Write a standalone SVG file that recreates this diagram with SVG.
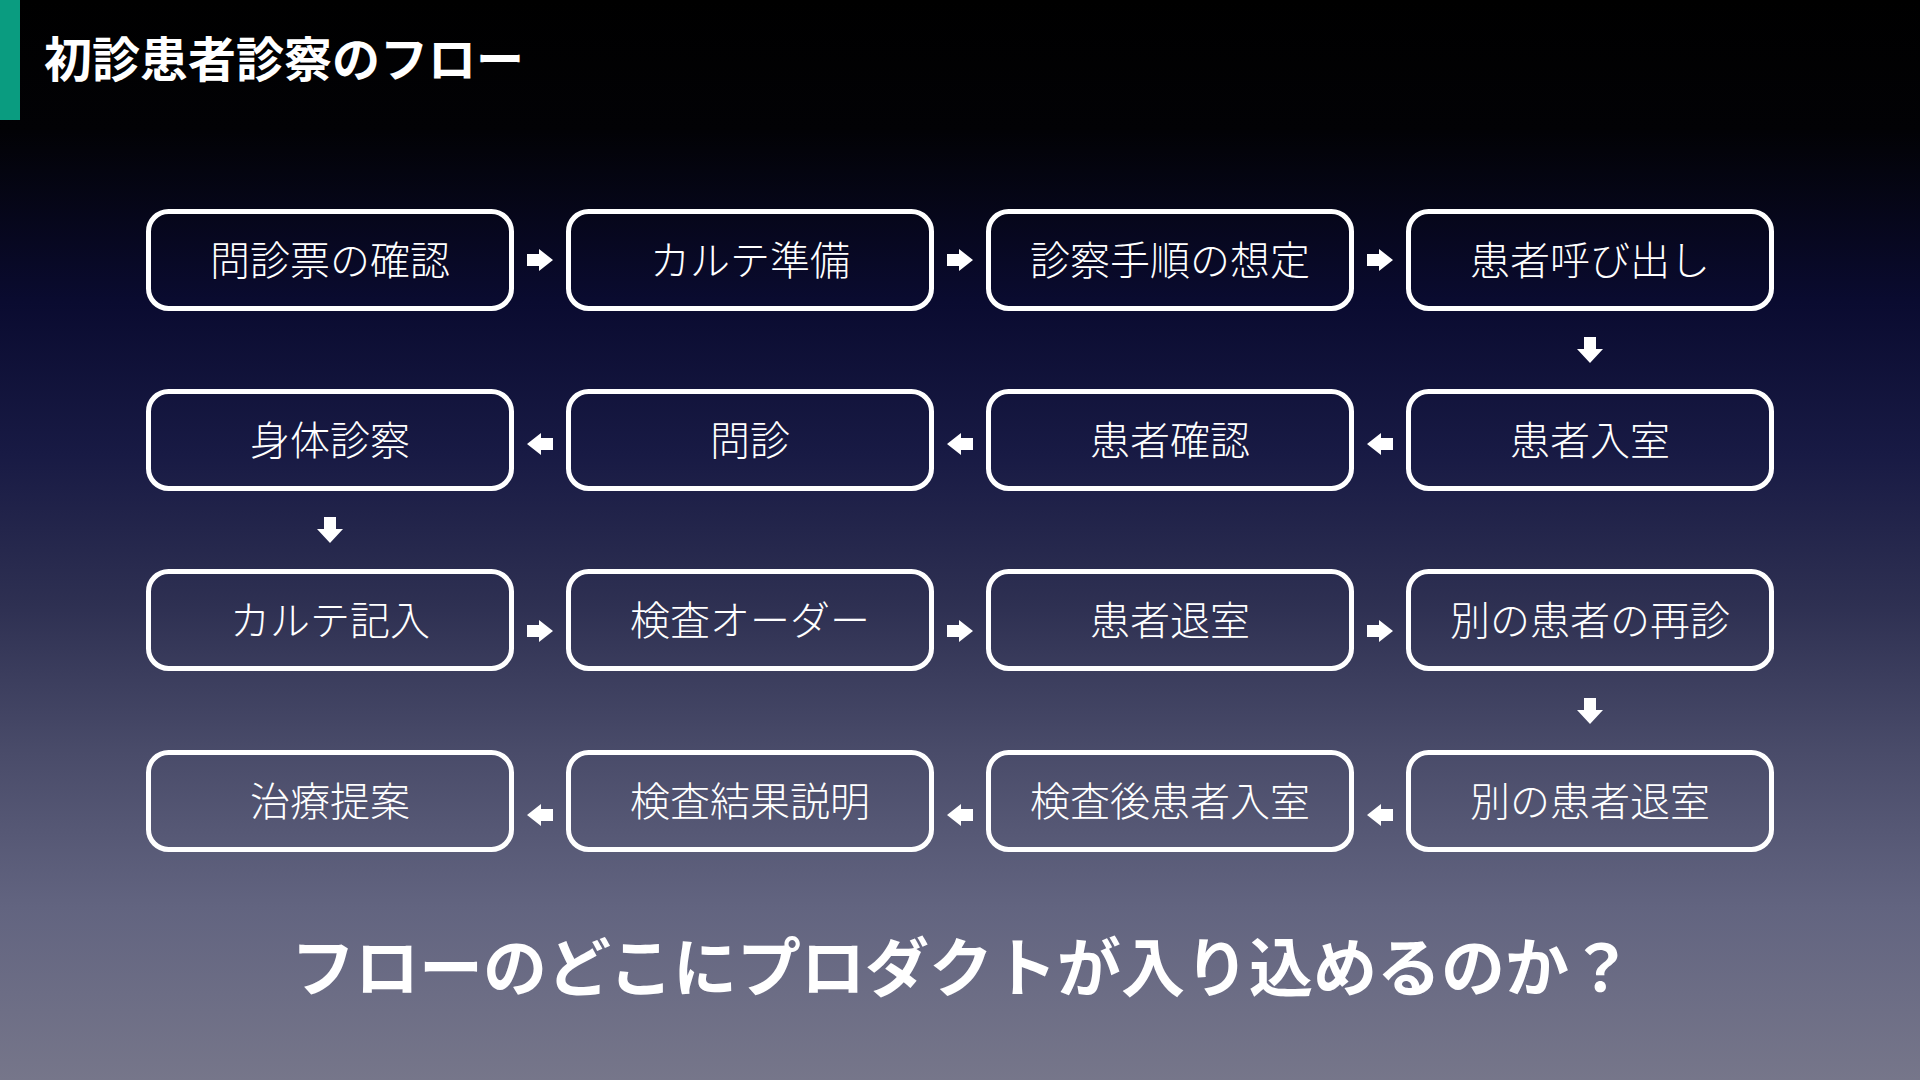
<svg xmlns="http://www.w3.org/2000/svg" xmlns:xlink="http://www.w3.org/1999/xlink" width="1920" height="1080" viewBox="0 0 1920 1080">
  <defs>
    <linearGradient id="bg" x1="0" y1="0" x2="0" y2="1">
      <stop offset="0" stop-color="#000000"/>
      <stop offset="0.12" stop-color="#020205"/>
      <stop offset="0.28" stop-color="#0a0b30"/>
      <stop offset="0.42" stop-color="#181a44"/>
      <stop offset="0.56" stop-color="#2e3052"/>
      <stop offset="0.7" stop-color="#4a4c6a"/>
      <stop offset="0.84" stop-color="#626480"/>
      <stop offset="1" stop-color="#76768a"/>
    </linearGradient>
    <path id="arR" d="M-13,-6 H-1 V-11 L13,0 L-1,11 V6 H-13 Z" fill="#ffffff"/>
    <path id="arL" d="M13,-6 H1 V-11 L-13,0 L1,11 V6 H13 Z" fill="#ffffff"/>
    <path id="arD" d="M-6,-13 V-1 H-13 L0,13 L13,-1 H6 V-13 Z" fill="#ffffff"/>
  </defs>
  <style>
    .box { fill: none; stroke: #ffffff; stroke-width: 5; }
    .lbl { font-family: "Noto Sans CJK JP", "Noto Sans CJK SC", sans-serif; font-size: 40px; font-weight: 300; fill: #ffffff; text-anchor: middle; }
    .title { font-family: "Noto Sans CJK JP", "Noto Sans CJK SC", sans-serif; font-size: 48px; font-weight: 700; fill: #ffffff; }
    .q { font-family: "Noto Sans CJK JP", "Noto Sans CJK SC", sans-serif; font-size: 64px; font-weight: 700; fill: #ffffff; text-anchor: middle; }
  </style>
  <rect x="0" y="0" width="1920" height="1080" fill="url(#bg)"/>
  <rect x="0" y="0" width="20" height="120" fill="#0a9c80"/>
  <text class="title" x="44" y="77">初診患者診察のフロー</text>

  <g id="connectors">
    <use xlink:href="#arR" x="540" y="260"/>
    <use xlink:href="#arR" x="960" y="260"/>
    <use xlink:href="#arR" x="1380" y="260"/>
    <use xlink:href="#arD" x="1590" y="350"/>
    <use xlink:href="#arL" x="1380" y="444"/>
    <use xlink:href="#arL" x="960" y="444"/>
    <use xlink:href="#arL" x="540" y="444"/>
    <use xlink:href="#arD" x="330" y="530"/>
    <use xlink:href="#arR" x="540" y="631"/>
    <use xlink:href="#arR" x="960" y="631"/>
    <use xlink:href="#arR" x="1380" y="631"/>
    <use xlink:href="#arD" x="1590" y="711"/>
    <use xlink:href="#arL" x="1380" y="815"/>
    <use xlink:href="#arL" x="960" y="815"/>
    <use xlink:href="#arL" x="540" y="815"/>
  </g>

  <g id="n1"><rect class="box" x="148.5" y="211.5" width="363" height="97" rx="20"/><text class="lbl" x="330" y="275">問診票の確認</text></g>
  <g id="n2"><rect class="box" x="568.5" y="211.5" width="363" height="97" rx="20"/><text class="lbl" x="750" y="275">カルテ準備</text></g>
  <g id="n3"><rect class="box" x="988.5" y="211.5" width="363" height="97" rx="20"/><text class="lbl" x="1170" y="275">診察手順の想定</text></g>
  <g id="n4"><rect class="box" x="1408.5" y="211.5" width="363" height="97" rx="20"/><text class="lbl" x="1590" y="275">患者呼び出し</text></g>

  <g id="n5"><rect class="box" x="148.5" y="391.5" width="363" height="97" rx="20"/><text class="lbl" x="330" y="455">身体診察</text></g>
  <g id="n6"><rect class="box" x="568.5" y="391.5" width="363" height="97" rx="20"/><text class="lbl" x="750" y="455">問診</text></g>
  <g id="n7"><rect class="box" x="988.5" y="391.5" width="363" height="97" rx="20"/><text class="lbl" x="1170" y="455">患者確認</text></g>
  <g id="n8"><rect class="box" x="1408.5" y="391.5" width="363" height="97" rx="20"/><text class="lbl" x="1590" y="455">患者入室</text></g>

  <g id="n9"><rect class="box" x="148.5" y="571.5" width="363" height="97" rx="20"/><text class="lbl" x="330" y="635">カルテ記入</text></g>
  <g id="n10"><rect class="box" x="568.5" y="571.5" width="363" height="97" rx="20"/><text class="lbl" x="750" y="635">検査オーダー</text></g>
  <g id="n11"><rect class="box" x="988.5" y="571.5" width="363" height="97" rx="20"/><text class="lbl" x="1170" y="635">患者退室</text></g>
  <g id="n12"><rect class="box" x="1408.5" y="571.5" width="363" height="97" rx="20"/><text class="lbl" x="1590" y="635">別の患者の再診</text></g>

  <g id="n13"><rect class="box" x="148.5" y="752.5" width="363" height="97" rx="20"/><text class="lbl" x="330" y="816">治療提案</text></g>
  <g id="n14"><rect class="box" x="568.5" y="752.5" width="363" height="97" rx="20"/><text class="lbl" x="750" y="816">検査結果説明</text></g>
  <g id="n15"><rect class="box" x="988.5" y="752.5" width="363" height="97" rx="20"/><text class="lbl" x="1170" y="816">検査後患者入室</text></g>
  <g id="n16"><rect class="box" x="1408.5" y="752.5" width="363" height="97" rx="20"/><text class="lbl" x="1590" y="816">別の患者退室</text></g>

  <text class="q" x="962" y="991">フローのどこにプロダクトが入り込めるのか？</text>
</svg>
